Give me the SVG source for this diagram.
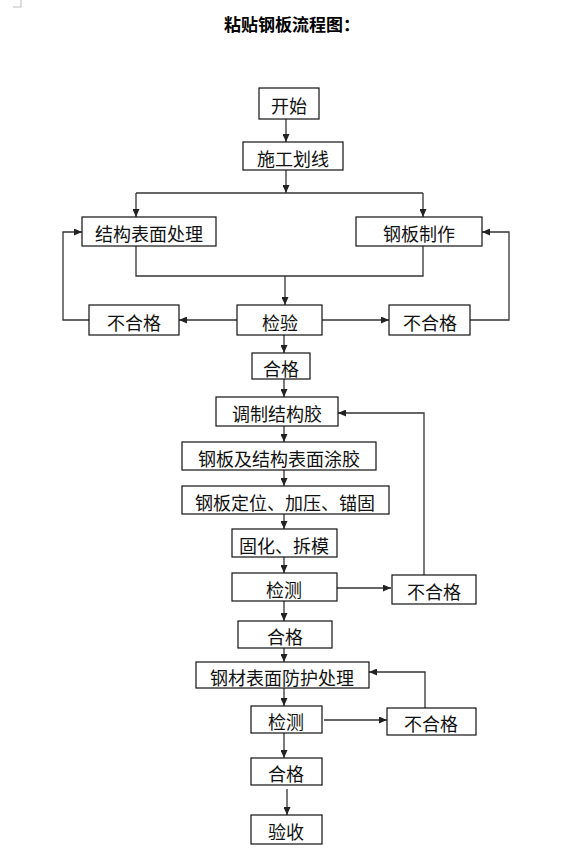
<svg xmlns="http://www.w3.org/2000/svg" width="568" height="862" viewBox="0 0 568 862">
<defs>
<marker id="ah" markerWidth="8" markerHeight="7" refX="8" refY="3.5" orient="auto" markerUnits="userSpaceOnUse">
<path d="M0,0 L8,3.5 L0,7 z" fill="#222"/>
</marker>
</defs>
<style>
.box{fill:#fff;stroke:#111;stroke-width:1.2}
.t{font-family:"Noto Sans CJK SC","Noto Sans",sans-serif;font-size:18px;fill:#111;text-anchor:middle;dominant-baseline:central}
.c{fill:none;stroke:#333;stroke-width:1.3}
.a{marker-end:url(#ah)}
.title{font-family:"Noto Sans CJK SC",sans-serif;font-size:17px;font-weight:bold;fill:#000;text-anchor:middle}
</style>
<rect width="568" height="862" fill="#fff"/>
<path d="M21,0 V7 H13" fill="none" stroke="#bbb" stroke-width="1"/>
<text class="title" x="292" y="31">粘贴钢板流程图：</text>

<g id="connectors">
<path class="c a" d="M286,119 V142"/>
<path class="c a" d="M286,170 V193"/>
<path class="c" d="M136,193 H423"/>
<path class="c a" d="M136,193 V217"/>
<path class="c a" d="M423,193 V217"/>
<path class="c" d="M136,246 V276 H423 V246"/>
<path class="c a" d="M285,276 V305"/>
<path class="c a" d="M237,320 H179"/>
<path class="c a" d="M322,320 H389"/>
<path class="c a" d="M89,320 H63 V232 H82"/>
<path class="c a" d="M470,320 H509 V232 H482"/>
<path class="c a" d="M284,335 V353"/>
<path class="c a" d="M284,379 V397"/>
<path class="c a" d="M284,426 V442"/>
<path class="c a" d="M284,470 V486"/>
<path class="c a" d="M284,514 V529"/>
<path class="c a" d="M284,557 V573"/>
<path class="c a" d="M337,588 H391"/>
<path class="c a" d="M424,575 V413 H338"/>
<path class="c a" d="M284,601 V621"/>
<path class="c a" d="M284,648 V662"/>
<path class="c a" d="M284,688 V706"/>
<path class="c a" d="M324,720 H387"/>
<path class="c a" d="M425,708 V672 H369"/>
<path class="c a" d="M284,733 V758"/>
<path class="c a" d="M287,789 V815"/>
</g>

<g id="n-start"><rect class="box" x="259" y="88" width="60" height="31"/><text class="t" x="289" y="105">开始</text></g>
<g id="n-line"><rect class="box" x="243" y="142" width="100" height="28"/><text class="t" x="293" y="158">施工划线</text></g>
<g id="n-surface"><rect class="box" x="82" y="217" width="134" height="29"/><text class="t" x="149" y="233">结构表面处理</text></g>
<g id="n-plate"><rect class="box" x="356" y="217" width="126" height="29"/><text class="t" x="419" y="233">钢板制作</text></g>
<g id="n-inspect1"><rect class="box" x="237" y="305" width="85" height="30"/><text class="t" x="280" y="322">检验</text></g>
<g id="n-fail1"><rect class="box" x="89" y="305" width="90" height="30"/><text class="t" x="134" y="322">不合格</text></g>
<g id="n-fail2"><rect class="box" x="389" y="305" width="81" height="30"/><text class="t" x="430" y="322">不合格</text></g>
<g id="n-pass1"><rect class="box" x="252" y="353" width="58" height="26"/><text class="t" x="281" y="368">合格</text></g>
<g id="n-glue"><rect class="box" x="216" y="397" width="122" height="29"/><text class="t" x="277" y="413">调制结构胶</text></g>
<g id="n-coat"><rect class="box" x="182" y="442" width="194" height="28"/><text class="t" x="279" y="458">钢板及结构表面涂胶</text></g>
<g id="n-fix"><rect class="box" x="182" y="486" width="207" height="28"/><text class="t" x="285" y="502">钢板定位、加压、锚固</text></g>
<g id="n-cure"><rect class="box" x="232" y="529" width="105" height="28"/><text class="t" x="284" y="545">固化、拆模</text></g>
<g id="n-test1"><rect class="box" x="232" y="573" width="105" height="28"/><text class="t" x="284" y="589">检测</text></g>
<g id="n-fail3"><rect class="box" x="392" y="575" width="84" height="29"/><text class="t" x="434" y="591">不合格</text></g>
<g id="n-pass2"><rect class="box" x="238" y="621" width="94" height="27"/><text class="t" x="285" y="636">合格</text></g>
<g id="n-protect"><rect class="box" x="196" y="662" width="173" height="26"/><text class="t" x="282" y="677">钢材表面防护处理</text></g>
<g id="n-test2"><rect class="box" x="251" y="706" width="71" height="27"/><text class="t" x="286" y="721">检测</text></g>
<g id="n-fail4"><rect class="box" x="387" y="708" width="89" height="27"/><text class="t" x="431" y="723">不合格</text></g>
<g id="n-pass3"><rect class="box" x="251" y="758" width="71" height="27"/><text class="t" x="286" y="773">合格</text></g>
<g id="n-accept"><rect class="box" x="251" y="815" width="71" height="29"/><text class="t" x="286" y="831">验收</text></g>
</svg>
